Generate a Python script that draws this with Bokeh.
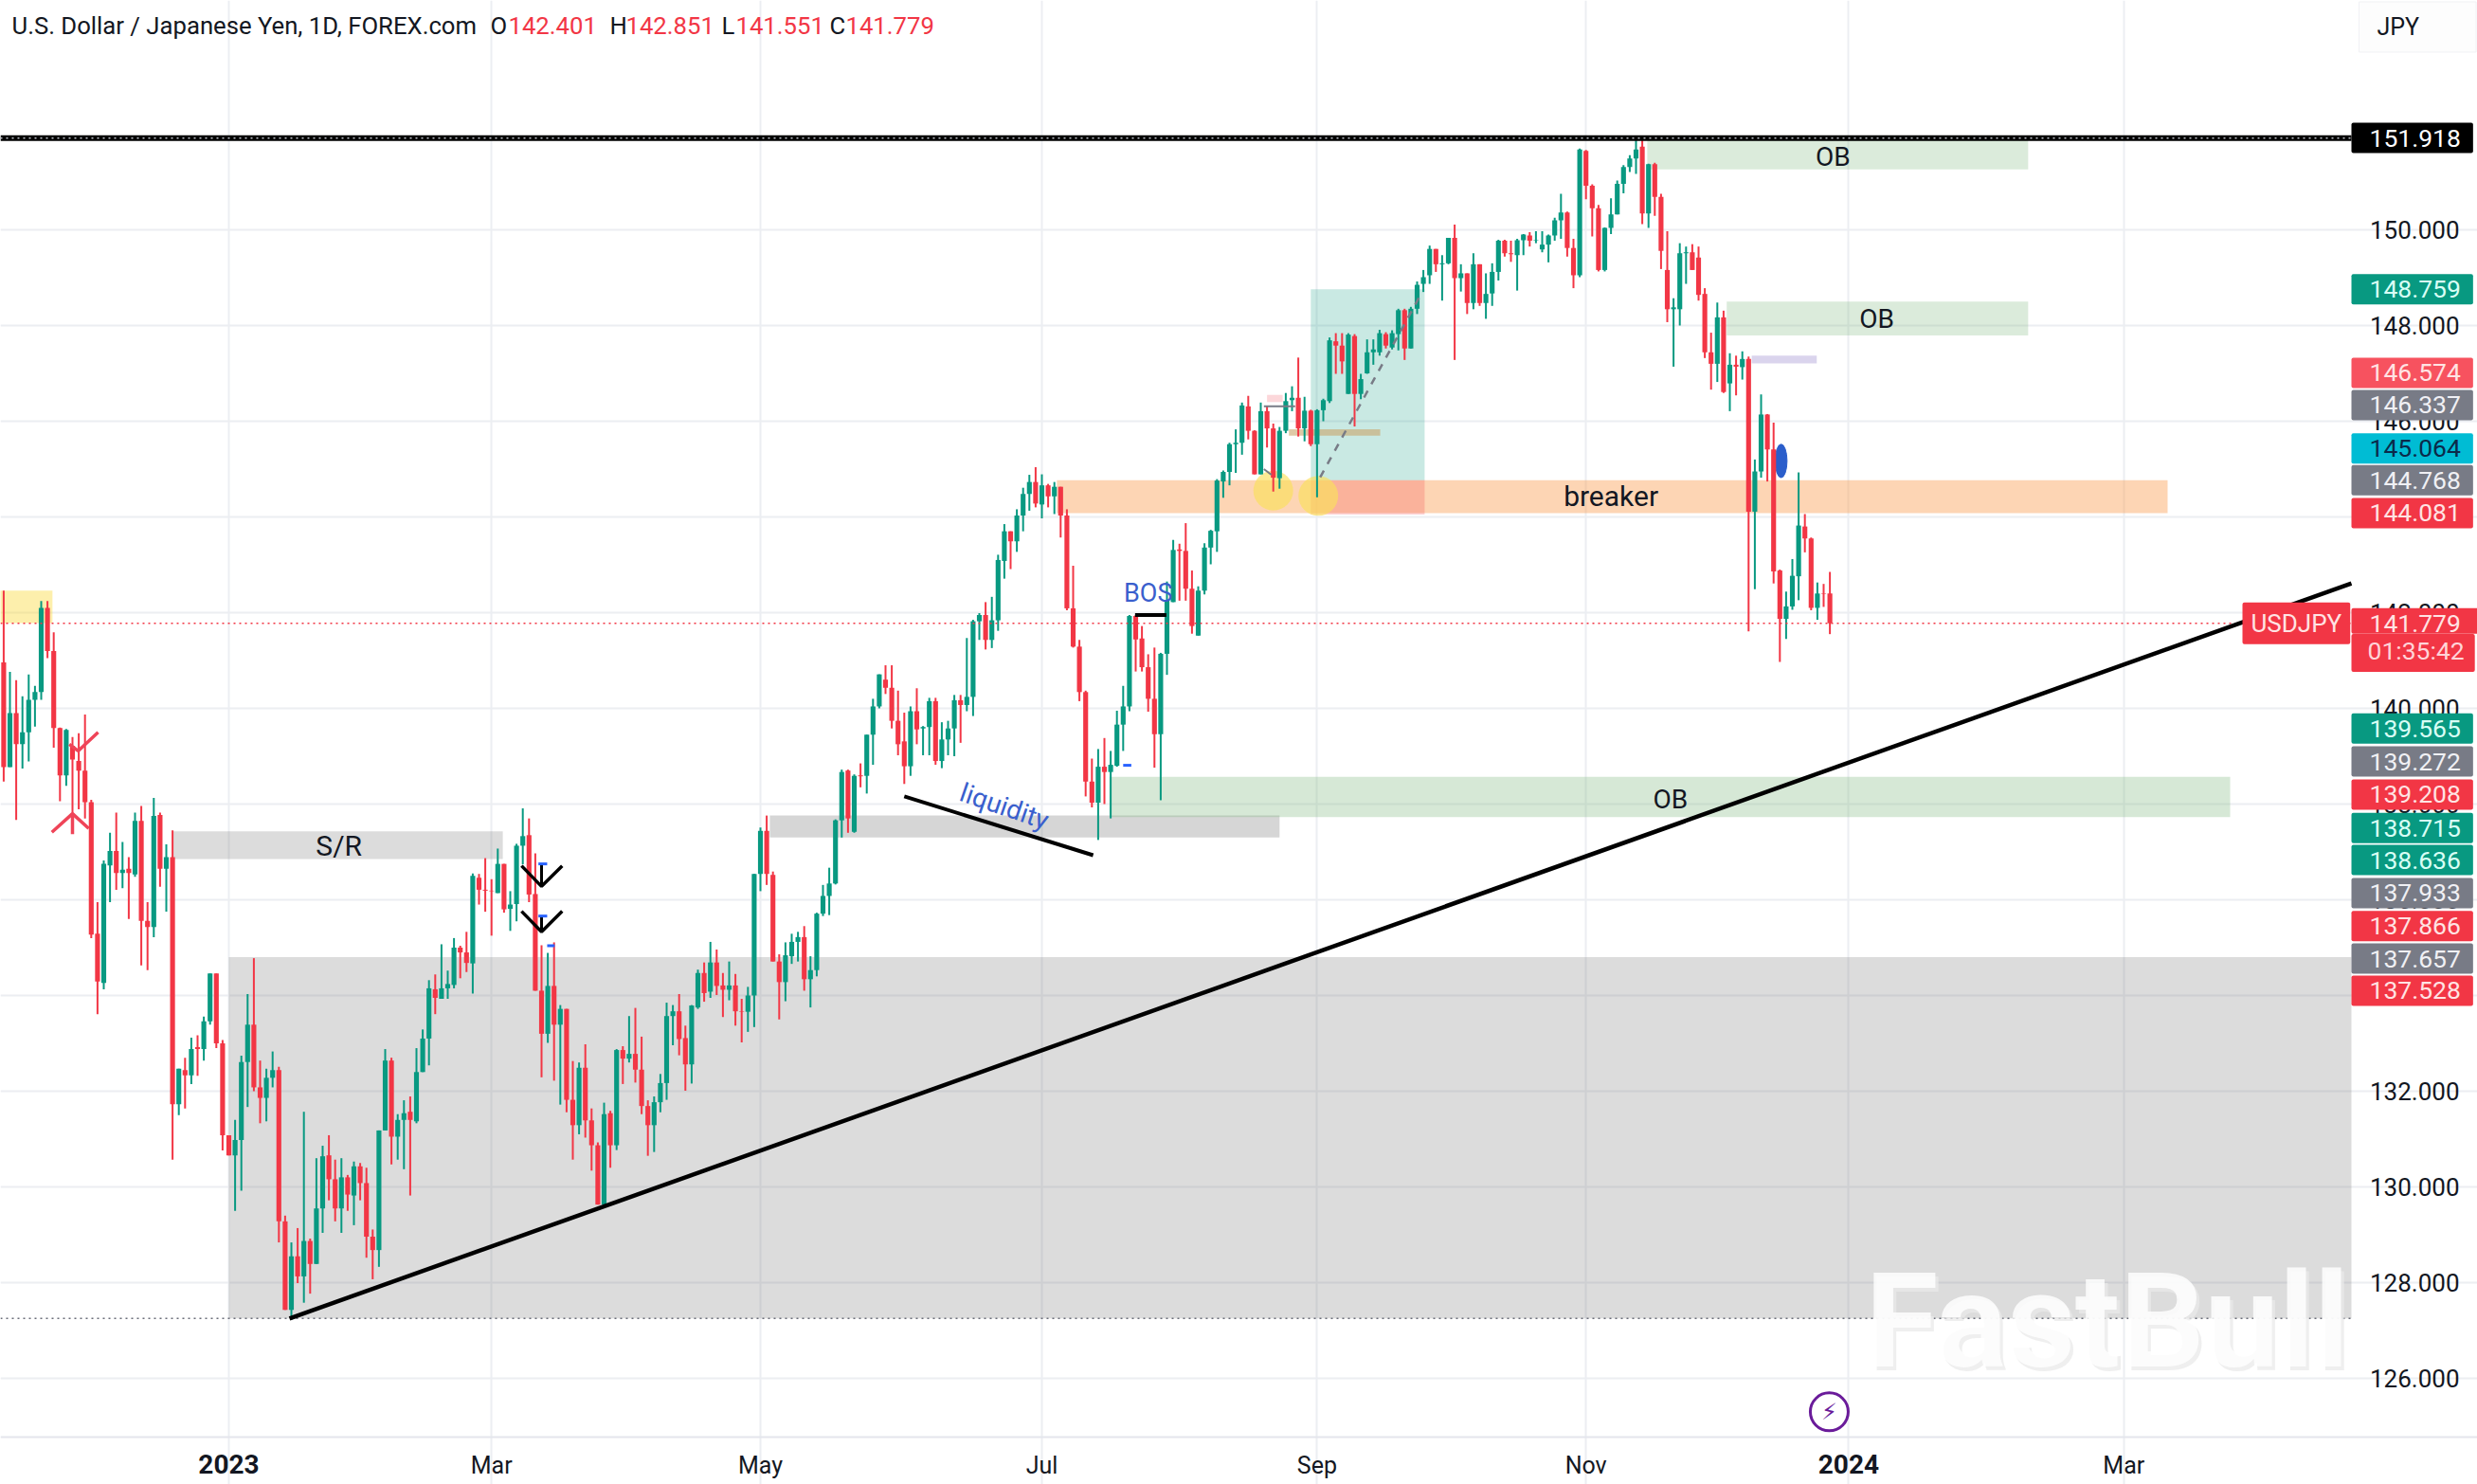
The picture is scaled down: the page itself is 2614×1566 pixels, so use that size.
from bokeh.plotting import figure
from bokeh.models import Label, FixedTicker, NumeralTickFormatter, Range1d
from bokeh.embed import file_html
from bokeh.resources import INLINE

# ---------------- candles (index 0 = first session of 2023) ----------------
first_index = -36
opens = [
140.96,138.77,139.90,139.25,139.50,140.18,140.34,142.10,141.20,139.59,
138.60,139.22,138.90,138.70,138.04,135.29,134.26,136.72,137.02,136.56,
136.65,136.53,137.65,135.56,135.43,137.77,136.65,136.89,131.73,132.44,
132.33,132.92,132.88,133.46,134.46,133.00,
131.08,130.66,130.98,132.61,133.39,132.08,131.86,132.28,132.44,129.28,
127.43,128.55,128.13,128.87,128.39,129.55,130.66,130.16,129.55,130.20,
129.82,130.43,130.08,128.96,128.68,131.18,132.64,131.05,131.40,131.57,
131.37,132.40,133.10,134.13,133.93,134.15,134.22,135.00,134.90,134.67,
136.46,136.21,136.19,136.14,136.75,135.81,135.91,137.13,137.35,136.12,
134.10,133.20,134.20,133.39,133.72,131.82,131.29,132.49,131.39,130.87,
129.63,131.54,130.87,132.86,132.68,132.78,132.45,131.69,131.29,131.77,
132.17,133.57,133.67,133.11,132.56,133.75,134.47,134.08,134.69,134.21,
134.12,134.21,133.67,133.66,134.00,136.54,137.44,136.52,134.71,134.28,
134.82,135.12,135.22,134.34,134.53,135.71,136.08,136.34,137.66,138.70,
137.42,138.60,138.59,139.45,140.04,140.60,140.43,139.74,139.31,138.79,
139.94,139.58,139.61,140.15,138.90,139.35,139.58,140.17,140.07,140.24,
141.82,141.95,141.43,141.84,143.08,143.70,143.49,144.03,144.48,144.73,
144.26,144.66,144.43,144.63,144.03,142.09,141.29,140.34,138.47,138.03,
138.78,138.67,138.80,139.66,140.04,141.93,141.46,140.86,140.20,139.46,
141.14,142.22,143.32,143.29,142.50,141.52,142.46,143.36,143.70,144.74,
144.94,145.52,145.55,146.31,145.80,144.89,146.21,145.85,144.81,145.80,
146.44,146.49,145.85,146.22,145.52,146.23,146.42,147.67,147.58,146.57,
147.78,146.57,147.00,147.44,147.44,147.82,147.54,147.82,148.32,147.52,
148.35,148.87,149.05,149.60,149.28,149.30,149.83,148.99,149.09,148.47,
149.28,148.47,148.67,149.12,149.77,149.51,149.47,149.78,149.88,149.77,
149.59,149.69,149.88,150.20,150.36,149.62,149.05,151.65,150.92,150.45,
149.16,150.04,150.32,150.96,151.31,151.49,151.74,150.34,151.37,150.69,
149.16,148.34,148.34,149.51,149.53,149.42,148.66,147.44,147.20,148.17,
146.79,147.18,147.13,147.30,144.11,144.95,146.14,145.41,142.88,141.87,
142.13,142.76,143.80,143.55,142.10,142.40,142.401,
]
highs = [
142.46,140.76,140.59,140.25,140.71,140.47,142.24,142.24,141.59,139.60,
139.57,139.40,139.48,139.87,138.09,135.95,136.82,137.40,137.82,137.21,
136.89,137.82,137.96,135.95,138.13,137.82,137.16,137.45,132.47,132.70,
133.12,133.17,133.56,134.46,134.46,133.07,
131.08,131.40,132.74,134.03,134.78,132.64,132.47,132.83,132.51,129.40,
128.84,129.14,131.57,128.92,130.60,130.86,131.08,130.57,130.60,130.25,
130.53,130.50,130.40,129.11,131.18,132.88,132.70,131.52,131.81,131.89,
132.90,133.29,134.32,134.44,135.07,134.52,135.20,135.04,135.33,136.55,
136.54,136.87,136.43,137.07,136.75,136.18,137.17,137.91,137.70,136.97,
135.05,134.89,135.11,133.80,133.72,132.63,132.60,132.98,131.64,130.93,
131.76,131.59,132.88,132.94,133.57,133.74,133.14,131.81,131.89,132.36,
133.85,133.80,134.03,133.37,133.80,134.54,134.69,135.12,134.96,134.47,
134.71,134.45,133.93,134.18,136.54,137.51,137.76,136.59,134.86,135.11,
135.29,135.33,135.45,134.82,135.73,136.31,136.67,137.68,138.72,138.72,
138.62,138.85,139.45,140.20,140.71,140.90,140.90,140.37,139.91,140.04,
140.42,139.63,140.22,140.22,139.71,139.74,140.28,140.28,141.47,141.85,
141.99,142.22,142.33,143.21,143.85,143.70,144.16,144.61,144.88,145.04,
144.89,144.69,144.73,144.63,144.16,142.98,141.43,140.37,138.95,139.15,
139.38,139.11,139.95,140.47,141.95,141.95,141.72,141.13,141.27,141.16,
142.65,143.52,143.44,143.87,142.88,142.55,143.45,143.73,144.79,144.97,
145.55,145.83,146.39,146.53,145.81,146.39,146.31,145.95,145.88,146.59,
146.73,147.33,146.51,146.24,146.25,146.47,147.75,147.84,147.84,147.84,
147.82,146.99,147.71,147.71,147.91,147.86,147.90,148.35,148.35,148.39,
148.92,149.16,149.67,149.60,149.47,149.83,150.11,149.28,149.09,149.51,
149.28,149.09,149.30,149.79,149.79,149.77,149.81,149.91,149.95,149.97,
149.97,149.90,150.25,150.75,150.38,149.81,151.70,151.67,150.95,150.52,
150.05,150.66,151.03,151.35,151.56,151.91,151.91,151.38,151.40,150.75,
149.97,148.57,149.72,149.65,149.70,149.65,148.78,147.85,148.48,148.31,
147.42,147.37,147.46,147.35,145.20,146.56,146.15,145.97,142.90,142.44,
143.12,144.93,144.06,143.57,142.63,142.60,142.851,
]
lows = [
138.47,138.77,137.67,138.74,138.89,139.62,140.18,141.05,139.18,138.06,
138.38,137.40,137.89,137.70,135.20,133.61,134.13,135.95,136.21,136.24,
135.60,136.48,134.63,134.53,135.22,136.27,135.75,130.57,131.50,131.64,
132.15,132.32,132.64,133.39,132.90,130.76,
130.66,129.50,129.92,131.67,132.00,131.33,131.37,132.08,128.84,127.43,
127.22,127.99,127.58,127.77,128.39,129.04,129.72,129.28,129.04,129.50,
129.20,129.72,128.52,128.07,128.33,131.18,130.47,130.57,130.37,129.82,
131.33,132.40,132.54,133.61,133.93,133.93,134.15,134.36,134.49,134.04,
135.90,135.75,135.25,136.14,135.73,135.35,135.55,136.74,135.95,134.10,
132.29,133.01,132.22,131.72,131.56,130.57,131.10,131.03,130.34,129.63,
129.63,130.40,130.77,132.15,132.60,132.18,131.52,130.65,130.73,131.56,
131.82,132.96,132.75,132.01,132.16,133.72,133.87,133.95,134.01,133.55,
133.90,133.37,133.02,133.24,133.34,136.18,136.31,134.71,133.50,133.88,
134.66,134.71,134.10,133.75,134.40,135.66,135.68,136.32,137.30,137.40,
137.40,138.35,138.22,138.82,140.00,140.30,139.58,139.02,138.42,138.59,
139.25,139.02,139.02,138.82,138.75,139.02,139.00,139.28,139.94,139.84,
141.43,141.23,141.26,141.62,142.71,142.91,143.27,143.70,144.13,144.20,
143.97,144.20,144.06,143.57,142.05,141.27,140.15,138.16,137.93,137.25,
138.00,137.70,138.78,139.11,139.94,140.77,140.77,139.93,138.76,138.08,
140.70,142.22,142.25,142.25,141.56,141.52,142.38,143.01,143.27,144.40,
144.66,144.92,145.30,145.62,144.89,144.89,145.45,144.53,144.59,145.75,
146.21,145.68,145.58,145.48,144.41,146.00,146.38,146.99,146.99,146.57,
145.89,146.46,146.99,147.18,147.37,147.52,147.50,147.48,147.28,147.52,
148.24,148.70,148.87,149.12,148.52,149.28,147.28,148.71,148.24,148.34,
148.41,148.14,148.41,148.94,149.44,149.33,148.73,149.47,149.65,149.72,
149.53,149.32,149.77,149.81,149.44,148.78,149.01,150.64,149.86,149.13,
149.13,149.91,150.32,150.76,151.21,151.17,150.12,150.04,150.29,149.18,
148.07,147.14,148.00,148.87,149.16,148.52,147.32,146.66,146.82,146.59,
146.21,146.54,146.87,141.61,142.49,144.82,144.74,142.61,140.97,141.45,
142.06,142.26,143.26,142.05,141.85,142.12,141.551,
]
closes = [
138.77,139.90,139.25,139.50,140.18,140.34,142.10,141.20,139.59,138.60,
139.55,138.93,138.70,138.04,135.27,134.29,136.75,137.02,136.56,136.63,
136.56,137.65,135.56,135.43,137.75,136.65,136.89,131.73,132.47,132.33,
132.88,132.88,133.46,134.46,133.00,131.08,
130.66,130.98,132.61,133.39,132.08,131.86,132.28,132.44,129.28,127.43,
128.55,128.13,128.87,128.39,129.55,130.64,130.16,129.55,130.20,129.84,
130.43,130.08,128.96,128.68,131.18,132.64,131.05,131.40,131.54,131.40,
132.40,133.10,134.15,133.95,134.15,134.24,135.00,134.90,134.68,136.50,
136.21,136.19,136.18,136.75,135.80,135.90,137.13,137.33,136.11,134.10,
133.20,134.20,133.39,133.72,131.82,131.29,132.49,131.39,130.87,129.63,
131.52,130.87,132.86,132.68,132.78,132.45,131.69,131.29,131.77,132.17,
133.57,133.67,133.09,132.56,133.79,134.47,134.05,134.69,134.20,134.12,
134.21,133.67,133.66,134.00,136.54,137.44,136.54,134.71,134.28,134.84,
135.12,135.22,134.34,134.53,135.71,136.08,136.34,137.66,138.67,137.70,
138.59,138.58,139.45,140.04,140.71,140.43,139.74,139.25,138.79,139.94,
139.56,139.61,140.15,138.90,139.35,139.58,140.17,140.07,140.24,141.82,
141.95,141.43,141.84,143.10,143.70,143.49,144.03,144.48,144.73,144.28,
144.66,144.43,144.63,144.03,142.09,141.29,140.34,138.47,138.03,138.78,
138.67,138.82,139.66,140.04,141.93,141.44,140.86,140.20,139.46,141.14,
142.25,143.31,143.29,142.50,141.72,142.46,143.36,143.71,144.76,144.94,
145.52,145.55,146.33,145.80,144.89,146.21,145.85,144.82,145.80,146.42,
146.49,145.85,146.22,145.52,146.23,146.44,147.69,147.58,147.25,147.81,
146.57,146.88,147.44,147.50,147.84,147.58,147.84,148.32,147.52,148.35,
148.85,149.01,149.60,149.28,149.30,149.83,148.99,149.09,148.47,149.28,
148.47,148.66,149.12,149.77,149.51,149.49,149.78,149.90,149.77,149.78,
149.69,149.88,150.20,150.36,149.62,149.05,151.68,150.92,150.45,149.16,
150.04,150.32,150.96,151.31,151.49,151.68,150.34,151.37,150.69,149.56,
148.34,148.38,149.51,149.53,149.16,148.64,147.44,147.20,148.17,146.61,
147.18,147.14,147.30,144.11,144.95,146.14,145.41,142.86,141.87,142.13,
142.77,143.82,143.55,142.10,142.40,142.39,141.779,
]

# ---------------- axis ticks ----------------
price_ticks = [126,128,130,132,134,136,138,140,142,144,146,148,150]
month_ticks = [42,85,130,174,217,303]
month_names = ["Mar","May","Jul","Sep","Nov","Mar"]
year_ticks = [0,259]
year_names = ["2023","2024"]

# ---------------- drawn zones ----------------
zone_left   = [0,-9,86.5,-38,132.4,173.0,173.0,169.5,166,226.8,239.5,140.8,243.5]
zone_right  = [339.39,43.8,168,-28.2,310,191.2,191.2,184.1,168.5,287.7,287.7,320,253.9]
zone_top    = [134.8,137.43,137.76,142.46,144.768,148.759,144.768,145.83,146.55,151.918,148.5,138.57,147.37]
zone_bottom = [127.25,136.85,137.3,141.78,144.081,144.768,144.05,145.7,146.4,151.26,147.79,137.73,147.21]
zone_color  = ["#777777","#777777","#777777","#fbd93a","#fb9c4c","#089981","#f23645","#c9a56a","#f23645",
               "#7fb77e","#7fb77e","#7fb77e","#9d8fd0"]
zone_alpha  = [0.26,0.26,0.3,0.42,0.42,0.22,0.22,0.6,0.2,0.28,0.28,0.32,0.38]

tag_text  = ["151.918","148.759","146.574","146.337","145.064","144.768","144.081","139.565","139.272",
             "139.208","138.715","138.636","137.933","137.866","137.657","137.528"]
tag_pos   = [151.92,148.759,147.01,146.337,145.43,144.768,144.081,139.58,138.89,138.2,137.5,136.83,136.14,135.45,134.77,134.1]
tag_fill  = ["#000000","#089981","#f7525f","#787b86","#00bcd4","#787b86","#f23645","#089981","#787b86",
             "#f23645","#089981","#089981","#787b86","#f23645","#787b86","#f23645"]
tag_ink   = ["#ffffff","#d8fff5","#ffe3e3","#f0f0f4","#0b2a4a","#f0f0f4","#ffe3e3","#d8fff5","#f0f0f4",
             "#ffe3e3","#d8fff5","#d8fff5","#f0f0f4","#ffe3e3","#f0f0f4","#ffe3e3"]

INK = "#131722"; UP = "#089981"; DOWN = "#f23645"; BLUE = "#3a5fcd"
PX = 6.6; PY = 50.5
x0, x1 = -36.515, 359.545      # whole canvas
y0, y1 = 123.782, 154.792
pane_right = 339.394           # price pane right edge
pane_bottom = 124.772          # price pane bottom edge

def sx(px):   # page pixel -> index (layout helper for text only)
    return (px - 241) / PX
def sy(py):
    return 150 - (py - 242) / PY

p = figure(frame_width=2614, frame_height=1566, output_backend="svg", toolbar_location=None,
           x_range=Range1d(x0, x1), y_range=Range1d(y0, y1), y_axis_location="left",
           min_border_left=0, min_border_top=0, min_border_right=0, min_border_bottom=0)
p.outline_line_color = None
p.background_fill_color = "#ffffff"
p.border_fill_color = "#ffffff"

# axes, kept inside the canvas at fixed positions
p.xaxis.fixed_location = pane_bottom
p.xaxis.ticker = FixedTicker(ticks=year_ticks + month_ticks)
p.xaxis.major_label_overrides = {**{t: "" for t in year_ticks}, **dict(zip(month_ticks, month_names))}
p.xaxis.major_tick_line_color = None; p.xaxis.minor_tick_line_color = None
p.xaxis.axis_line_color = "#e4e6ec"; p.xaxis.axis_line_width = 2
p.xaxis.major_label_text_font = "Roboto"; p.xaxis.major_label_text_font_size = "25px"
p.xaxis.major_label_text_color = INK; p.xaxis.major_label_standoff = 9
p.yaxis.fixed_location = sx(2601)
p.yaxis.ticker = FixedTicker(ticks=price_ticks)
p.yaxis.formatter = NumeralTickFormatter(format="0.000")
p.yaxis.major_tick_line_color = None; p.yaxis.minor_tick_line_color = None
p.yaxis.axis_line_color = None
p.yaxis.major_label_text_font = "Roboto"; p.yaxis.major_label_text_font_size = "26px"
p.yaxis.major_label_text_color = INK; p.yaxis.major_label_standoff = 0
p.grid.grid_line_color = "#eceef2"; p.grid.grid_line_width = 2
p.xgrid.bounds = (pane_bottom, y1)
p.ygrid.bounds = (x0, pane_right)

# zones
p.quad(left=zone_left, right=zone_right, top=zone_top, bottom=zone_bottom,
       fill_color=zone_color, fill_alpha=zone_alpha, line_color=None)

# yellow touch circles
p.scatter(x=[167, 174.2], y=[144.55, 144.44], size=42, fill_color="#fbe05a", fill_alpha=0.65, line_color=None)
# blue ellipse
p.ellipse(x=[248.2], y=[145.17], width=1.9, height=0.7, fill_color="#2b5ecb", line_color="#2b5ecb")

# candles
index = list(range(first_index, first_index + len(closes)))
colors = [UP if c >= o else DOWN for o, c in zip(opens, closes)]
p.segment(x0=index, x1=index, y0=lows, y1=highs, line_color=colors, line_width=2)
p.vbar(x=index, width=0.78, top=[max(a, b) for a, b in zip(opens, closes)],
       bottom=[min(a, b) for a, b in zip(opens, closes)], fill_color=colors, line_color=None)

# price lines
p.line([x0, pane_right], [151.918, 151.918], line_color="#000000", line_width=6)
p.line([x0, pane_right], [151.918, 151.918], line_color="#b8bcc4", line_width=1.5, line_dash=[2, 4])
p.line([x0, pane_right], [141.779, 141.779], line_color=DOWN, line_width=1.5, line_dash=[2, 4])
p.line([x0, pane_right], [127.25, 127.25], line_color="#6a6d78", line_width=1.5, line_dash=[2, 4])

# hand-drawn lines
trend_x = [9.7, 339.39]; trend_y = [127.25, 142.61]
liq_x = [108, 138.2]; liq_y = [138.16, 136.93]
bos_x = [144.9, 149.9]; bos_y = [141.95, 141.95]
p.line(trend_x, trend_y, line_color="#000000", line_width=4.5)
p.line(liq_x, liq_y, line_color="#000000", line_width=4)
p.line(bos_x, bos_y, line_color="#000000", line_width=4)

# dashed projection
p.line([174.5, 190.8], [144.83, 148.7], line_color="#787b86", line_width=2.5, line_dash=[8, 8])
p.line([165.5, 170.5], [146.31, 146.31], line_color="#787b86", line_width=2)
p.line([165.5, 166.7], [145.0, 144.88], line_color="#787b86", line_width=2)

# black ticks
tick1_x = [46.8, 50, 53.3]; tick1_y = [136.71, 136.28, 136.71]
tick2_x = [46.8, 50, 53.3]; tick2_y = [135.76, 135.33, 135.76]
p.line(tick1_x, tick1_y, line_color="#000000", line_width=3.5)
p.line(tick2_x, tick2_y, line_color="#000000", line_width=3.5)
p.line([50, 50], [136.28, 136.73], line_color="#000000", line_width=3)
p.line([50, 50], [135.33, 135.64], line_color="#000000", line_width=3)
p.segment(x0=[49.5, 49.5, 50.9, 143], x1=[50.9, 50.9, 52.1, 144.3], y0=[136.75, 135.66, 135.04, 138.81],
          y1=[136.75, 135.66, 135.04, 138.81], line_color="#2962ff", line_width=3)
# red ticks
p.line([-28.3, -25, -22.4], [137.41, 137.8, 137.49], line_color="#ef4458", line_width=3.5)
p.line([-25, -25], [137.37, 137.8], line_color="#ef4458", line_width=3.5)
p.line([-25.5, -24.1, -20.9], [139.25, 139.11, 139.5], line_color="#ef4458", line_width=3.5)

# bolt marker
p.scatter(x=[255.9], y=[125.3], size=40, fill_color="#ffffff", line_color="#6a1b9a", line_width=3)

def text(t, x, y, size, color=INK, font="Roboto", align="center", style="normal", angle=0, alpha=1.0):
    lab = Label(x=x, y=y, text=t, text_font=font, text_font_size=f"{size}px", text_color=color,
                text_align=align, text_baseline="middle", text_font_style=style, angle=angle, text_alpha=alpha)
    p.add_layout(lab)
    return lab

# chart texts
text("S/R", 17.6, 137.13, 30)
text("OB", 256.5, 151.52, 28)
text("OB", 263.5, 148.13, 28)
text("OB", 230.5, 138.1, 28)
text("breaker", 221, 144.43, 30)
text("BOS", 147.0, 142.4, 27, color=BLUE)
text("liquidity", 124, 137.95, 28, color=BLUE, angle=-0.33)
text("\u26a1", 255.9, 125.3, 24, color="#6a1b9a", font="DejaVu Sans")

# watermark
text("FastBull", sx(1968) + 0.5, sy(1394) - 0.06, 140, color="#e9e9ea", align="left", style="bold", alpha=0.75)
text("FastBull", sx(1968), sy(1394), 140, color="#ffffff", align="left", style="bold", alpha=0.82)

# header
text("U.S. Dollar / Japanese Yen, 1D, FOREX.com", sx(12), sy(27), 25.7, align="left")
for letter, lx, val, vx in [("O", 517, "142.401", 536), ("H", 643, "142.851", 660),
                            ("L", 761, "141.551", 776), ("C", 875, "141.779", 892)]:
    text(letter, sx(lx), sy(27), 25.7, align="left")
    text(val, sx(vx), sy(27), 25.7, color=DOWN, align="left")

# year labels on time axis
for t, name in zip(year_ticks, year_names):
    text(name, t, sy(1545), 28, style="bold")

# padding order used by the label box: left, right, top, bottom
def tag(t, y, fill, ink, x=None, pad=(19, 13, 7, 7), size=26.5):
    lab = Label(x=pane_right if x is None else x, y=y, text=t, text_font="Roboto", text_font_size=f"{size}px",
                text_color=ink, text_align="left", text_baseline="middle", background_fill_color=fill,
                padding=pad, border_radius=2)
    p.add_layout(lab)

for t, y, f, k in zip(tag_text, tag_pos, tag_fill, tag_ink):
    tag(t, y, f, k)

# current price stack
tag("01:35:42", sy(686) - 0.05, DOWN, "#ffd4d8", pad=(17, 11, 2, 7))
tag("141.779", 141.779 + 0.05, DOWN, "#ffe3e3", pad=(19, 20, 7, 2))
tag("USDJPY", 141.779, DOWN, "#ffe3e3", x=sx(2366), pad=(9, 9, 7, 7), size=26)
# JPY box
lab = Label(x=sx(2489), y=sy(28), text="JPY", text_font="Roboto", text_font_size="25px", text_color=INK,
            text_baseline="middle", background_fill_color="#fdfdfd", border_line_color="#f0f1f4",
            padding=(19, 60, 12, 12))
p.add_layout(lab)

open("out.html", "w").write(file_html(p, INLINE))
